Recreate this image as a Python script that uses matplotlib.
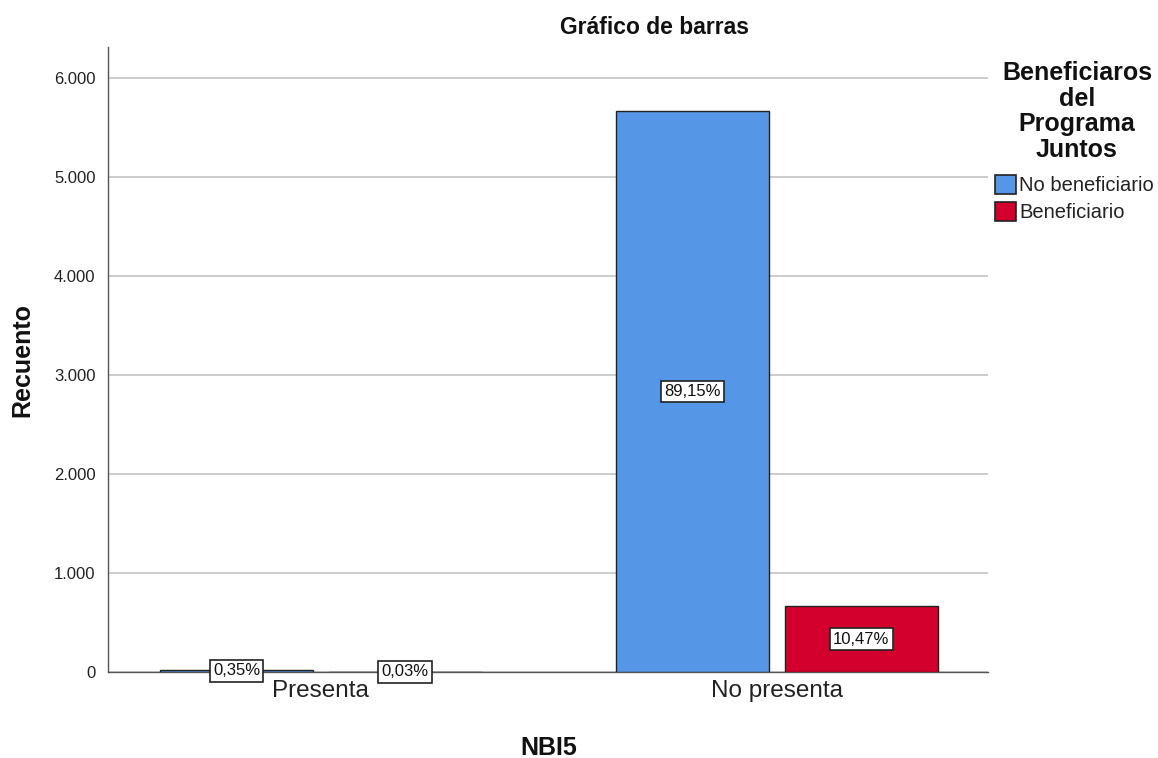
import matplotlib
matplotlib.use("Agg")
import matplotlib.pyplot as plt
from matplotlib.patches import Patch
import numpy as np

plt.rcParams['font.family'] = ['Liberation Sans', 'DejaVu Sans']

categories = ["Presenta", "No presenta"]
series_names = ["No beneficiario", "Beneficiario"]
no_benef = [22, 5667]
benef = [2, 666]
pct_no_benef = ["0,35%", "89,15%"]
pct_benef = ["0,03%", "10,47%"]
yticks = [0, 1000, 2000, 3000, 4000, 5000, 6000]
ytick_labels = ["0", "1.000", "2.000", "3.000", "4.000", "5.000", "6.000"]

colors = ["#5596E6", "#D3002D"]
W, H = 1158, 758

fig = plt.figure(figsize=(11.58, 7.58), dpi=100)
ax = fig.add_axes([108 / W, 1 - 672 / H, 880 / W, 625 / H])

x = np.arange(len(categories))
w = 0.335
off = 0.185
b1 = ax.bar(x - off, no_benef, w, color=colors[0], edgecolor="#222222", linewidth=1.0, zorder=3)
b2 = ax.bar(x + off, benef, w, color=colors[1], edgecolor="#222222", linewidth=1.0, zorder=3)

for bars, labels in ((b1, pct_no_benef), (b2, pct_benef)):
    for rect, lab in zip(bars, labels):
        cx = rect.get_x() + rect.get_width() / 2
        cy = rect.get_height() / 2
        ax.text(cx, cy, lab, ha="center", va="center", fontsize=12, zorder=5, color="#111111",
                bbox=dict(boxstyle="square,pad=0.2", facecolor="white", edgecolor="#222222", linewidth=1.2))

ax.set_xlim(-0.467, 1.463)
ax.set_ylim(0, 6313)
ax.set_yticks(yticks)
ax.set_yticklabels(ytick_labels, fontsize=12, color="#222222")
ax.set_xticks(x)
ax.set_xticklabels(categories, fontsize=17.5, color="#222222")
ax.tick_params(axis="both", length=0)
ax.tick_params(axis="y", pad=9)
ax.tick_params(axis="x", pad=6)
ax.grid(axis="y", color="#c8c8c8", linewidth=1.3, zorder=0)
for s in ("top", "right"):
    ax.spines[s].set_visible(False)
for s in ("left", "bottom"):
    ax.spines[s].set_color("#555555")
    ax.spines[s].set_linewidth(1.0)

fig.text(22 / W, 1 - 360 / H, "Recuento", rotation=90, ha="center", va="center",
         fontsize=18, fontweight="bold", color="#111111")
fig.text(549 / W, 1 - 748 / H, "NBI5", ha="center", va="center",
         fontsize=18, fontweight="bold", color="#111111")
fig.text(655 / W, 1 - 28 / H, "Gráfico de barras", ha="center", va="center",
         fontsize=16.5, fontweight="bold", color="#111111")

fig.text(1077 / W, 1 - 61 / H, "Beneficiaros\ndel\nPrograma\nJuntos", ha="center", va="top",
         multialignment="center", fontsize=18, fontweight="bold", linespacing=1.08, color="#111111")

handles = [Patch(facecolor=c, edgecolor="#222222", linewidth=1.2, label=n) for c, n in zip(colors, series_names)]
leg = fig.legend(handles=handles, loc="upper left", bbox_to_anchor=(995 / W, 1 - 175 / H), frameon=False,
                 fontsize=14.5, handlelength=1.05, handleheight=1.05,
                 handletextpad=0.15, labelspacing=0.35, borderaxespad=0, borderpad=0)
for t in leg.get_texts():
    t.set_color("#222222")

fig.savefig("out.png", dpi=100)
